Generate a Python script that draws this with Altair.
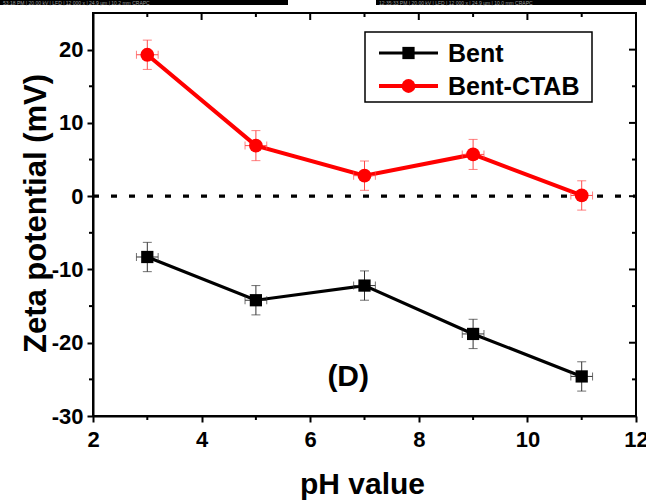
import altair as alt
import pandas as pd

# ---------------- data ----------------
ph = [3, 5, 7, 9, 11]
bent = [-8.3, -14.2, -12.2, -18.8, -24.6]
bent_ctab = [19.3, 6.9, 2.8, 5.7, 0.1]
bent_err = [2.0, 2.0, 2.0, 2.0, 2.0]
ctab_err = [2.0, 2.05, 2.0, 2.05, 2.0]
ph_err = [0.2, 0.2, 0.2, 0.2, 0.2]
series = ["Bent", "Bent-CTAB"]
line_colors = ["#000000", "#ff0000"]
err_colors = ["#333333", "#ff4a4a"]
shapes = ["square", "circle"]
x_major = [2, 4, 6, 8, 10, 12]
x_minor = [3, 5, 7, 9, 11]
y_major = [-30, -20, -10, 0, 10, 20]
y_minor = [-25, -15, -5, 5, 15]
panel_label = "(D)"
sem_texts = ["53:18 PM | 20.00 kV | LFD | 12 000 x | 24.9 µm | 10.2 mm          CRAPC",
             "12:35:33 PM | 20.00 kV | LFD | 12 000 x | 24.9 µm | 10.0 mm          CRAPC"]

rows = []
for s, vals, errs, lc, ec, shp in zip(series, [bent, bent_ctab], [bent_err, ctab_err],
                                      line_colors, err_colors, shapes):
    for p, v, e, pe in zip(ph, vals, errs, ph_err):
        rows.append(dict(series=s, ph=p, val=v, lo=v - e, hi=v + e,
                         xlo=p - pe, xhi=p + pe, lc=lc, ec=ec, shp=shp))
df = pd.DataFrame(rows)

F = "Liberation Sans"
W, H = 543, 403

xs = alt.Scale(domain=[2, 12], nice=False, zero=False)
ys = alt.Scale(domain=[-30, 25], nice=False, zero=False)

x_axis = alt.Axis(values=x_major, title="pH value", grid=False,
                  labelFont=F, labelFontSize=22, labelFontWeight="bold", labelColor="black",
                  labelPadding=7, labelFlush=False, labelOverlap=False,
                  tickSize=6, tickWidth=2, tickColor="black",
                  domainColor="black", domainWidth=2,
                  titleFont=F, titleFontSize=30, titleFontWeight="bold", titleColor="black",
                  titleX=269, titleY=77, titleBaseline="alphabetic", titleAlign="center")
y_axis = alt.Axis(values=y_major, labelExpr="'' + datum.value", title="Zeta potential (mV)",
                  grid=False,
                  labelFont=F, labelFontSize=22, labelFontWeight="bold", labelColor="black",
                  labelPadding=4, labelFlush=False, labelOverlap=False,
                  tickSize=6, tickWidth=2, tickColor="black",
                  domainColor="black", domainWidth=2,
                  titleFont=F, titleFontSize=31, titleFontWeight="bold", titleColor="black",
                  titleX=-48, titleY=200, titleAngle=270, titleBaseline="alphabetic",
                  titleAlign="center")


def X(f):
    return alt.X(f, scale=xs, axis=x_axis)


def Y(f):
    return alt.Y(f, scale=ys, axis=y_axis)


base = alt.Chart(df)

lines = base.mark_line().encode(
    x=X("ph:Q"), y=Y("val:Q"),
    detail="series:N",
    color=alt.Color("lc:N", scale=None),
    strokeWidth=alt.StrokeWidth("series:N", scale=alt.Scale(domain=series, range=[3.2, 4]),
                                legend=None))

# zero dotted line
zero = alt.Chart(pd.DataFrame({"z": [0]})).mark_rule(
    color="black", strokeWidth=3.3, strokeDash=[6, 12]).encode(
    y=Y("z:Q"), x=alt.value(0), x2=alt.value(W))

# error bars
ecol = alt.Color("ec:N", scale=None)
verr = base.mark_rule(strokeWidth=1).encode(x=X("ph:Q"), y=Y("lo:Q"), y2="hi:Q", color=ecol)
vcap_lo = base.mark_tick(orient="horizontal", size=9, thickness=1).encode(
    x=X("ph:Q"), y=Y("lo:Q"), color=ecol)
vcap_hi = base.mark_tick(orient="horizontal", size=9, thickness=1).encode(
    x=X("ph:Q"), y=Y("hi:Q"), color=ecol)
herr = base.mark_rule(strokeWidth=1).encode(x=X("xlo:Q"), x2="xhi:Q", y=Y("val:Q"), color=ecol)
hcap_lo = base.mark_tick(orient="vertical", size=8, thickness=1).encode(
    x=X("xlo:Q"), y=Y("val:Q"), color=ecol)
hcap_hi = base.mark_tick(orient="vertical", size=8, thickness=1).encode(
    x=X("xhi:Q"), y=Y("val:Q"), color=ecol)

points = base.mark_point(filled=True, opacity=1).encode(
    x=X("ph:Q"), y=Y("val:Q"),
    color=alt.Color("lc:N", scale=None),
    shape=alt.Shape("shp:N", scale=None),
    size=alt.Size("series:N", scale=alt.Scale(domain=series, range=[150, 190]), legend=None))

# minor ticks and mirrored ticks
tick_kw = dict(color="black", strokeWidth=2)
xmaj = pd.DataFrame({"t": x_major})
xmin = pd.DataFrame({"t": x_minor})
ymaj = pd.DataFrame({"t": y_major})
ymin = pd.DataFrame({"t": y_minor})
ticks = [
    alt.Chart(xmin).mark_rule(**tick_kw).encode(
        x=X("t:Q"), y=alt.value(H), y2=alt.value(H + 4)),
    alt.Chart(xmaj).mark_rule(**tick_kw).encode(
        x=X("t:Q"), y=alt.value(0.5), y2=alt.value(7)),
    alt.Chart(xmin).mark_rule(**tick_kw).encode(
        x=X("t:Q"), y=alt.value(0.5), y2=alt.value(4)),
    alt.Chart(ymin).mark_rule(**tick_kw).encode(
        y=Y("t:Q"), x=alt.value(0.5), x2=alt.value(-4)),
    alt.Chart(ymaj).mark_rule(**tick_kw).encode(
        y=Y("t:Q"), x=alt.value(W), x2=alt.value(W - 7)),
    alt.Chart(ymin).mark_rule(**tick_kw).encode(
        y=Y("t:Q"), x=alt.value(W), x2=alt.value(W - 4)),
]

# panel label
lab = alt.Chart(pd.DataFrame({"x": [6.7], "y": [-24.7], "t": [panel_label]})).mark_text(
    font=F, fontSize=30, fontWeight="bold", color="black", align="center", baseline="middle"
).encode(x=X("x:Q"), y=Y("y:Q"), text="t:N")

# legend (manual)
one = pd.DataFrame({"k": [0]})
legend_layers = [
    alt.Chart(one).mark_rect(fill="white", stroke="black", strokeWidth=1.5).encode(
        x=alt.value(272), x2=alt.value(499), y=alt.value(19), y2=alt.value(89))
]
for s, c, shp, yy, sw, sz in zip(series, line_colors, shapes, [40, 73], [3.2, 4], [150, 190]):
    d = pd.DataFrame({"t": [s]})
    legend_layers += [
        alt.Chart(d).mark_rule(color=c, strokeWidth=sw).encode(
            x=alt.value(286), x2=alt.value(345), y=alt.value(yy)),
        alt.Chart(d).mark_point(shape=shp, filled=True, color=c, size=sz, opacity=1).encode(
            x=alt.value(315.5), y=alt.value(yy)),
        alt.Chart(d).mark_text(font=F, fontSize=25, fontWeight="bold", color="black",
                               align="left", baseline="middle").encode(
            x=alt.value(355), y=alt.value(yy + 1), text="t:N"),
    ]

# SEM caption strips at top
sem_layers = []
for t, x0, x1 in zip(sem_texts, [-93, 283], [195, 553]):
    d = pd.DataFrame({"t": [t]})
    sem_layers += [
        alt.Chart(d).mark_rect(color="black").encode(
            x=alt.value(x0), x2=alt.value(x1), y=alt.value(-13), y2=alt.value(-8)),
        alt.Chart(d).mark_text(font=F, fontSize=5, color="#9a9a9a", align="left",
                               baseline="middle").encode(
            x=alt.value(x0 + 3), y=alt.value(-10.5), text="t:N"),
    ]

chart = alt.layer(
    lines, zero, verr, vcap_lo, vcap_hi, herr, hcap_lo, hcap_hi, points,
    *ticks, lab, *legend_layers, *sem_layers
).properties(
    width=W, height=H, autosize="none",
    padding={"left": 93, "top": 13, "right": 10, "bottom": 85},
    background="white",
).configure_view(stroke="black", strokeWidth=2)

chart.save("out.html", embed_options={"renderer": "svg", "actions": False})
